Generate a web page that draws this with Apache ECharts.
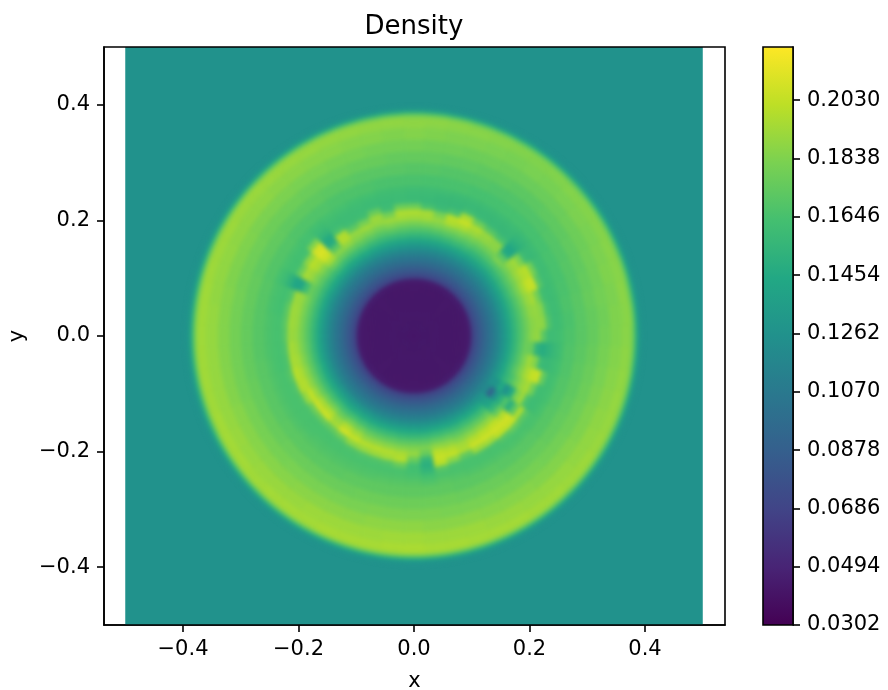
<!DOCTYPE html>
<html><head><meta charset="utf-8">
<style>html,body{margin:0;padding:0;background:#fff}#c{width:888px;height:690px}</style>
<script src="https://cdn.jsdelivr.net/npm/echarts@6/dist/echarts.min.js"></script>
</head><body><div id="c"></div><script>
// Density on a polar table, in thousandths. One row per 6 degrees, counter-clockwise from +x.
const xTicks=[-0.4,-0.2,0,0.2,0.4];
const yTicks=[-0.4,-0.2,0,0.2,0.4];
const barTicks=[0.0302,0.0494,0.0686,0.0878,0.1070,0.1262,0.1454,0.1646,0.1838,0.2030];
const barMin=0.0302, barMax=0.2205, ambientDensity=0.1262;
const viridis=['#440154','#482475','#414487','#355f8d','#2a788e','#21918c','#22a884','#44bf70','#7ad151','#bddf26','#fde725'];
const radialEdges=[0,.09,.10,.11,.12,.13,.14,.15,.16,.17,.18,.19,.20,.21,.22,.23,.24,.25,.26,.28,.30,.32,.34,.36,.37,.375,.38,.385,.39,.395];
const innerProfile=[42,44,71,83,94,104,115];
const midTable=[
[128,142,155,167,177,187,190,172,160,161,163],[128,142,155,167,177,186,189,188,168,160,162],[128,142,155,167,178,188,190,186,165,160,162],
[128,142,155,168,179,190,195,180,162,160,162],[128,142,156,169,181,193,203,205,172,161,162],[128,142,156,169,180,191,198,200,180,162,161],
[127,141,155,168,179,189,193,182,160,158,160],[126,140,154,168,183,172,146,143,150,155,159],[127,141,154,167,178,187,188,165,157,158,160],
[127,141,154,167,178,188,191,170,158,158,160],[128,142,156,169,180,191,197,178,159,158,160],[128,142,157,170,182,195,204,196,162,158,160],
[128,142,156,170,183,197,200,166,157,158,160],[127,141,155,169,182,190,182,160,157,158,161],[127,141,155,168,181,193,195,165,158,159,161],
[127,141,155,168,180,192,197,178,159,159,161],[128,142,156,169,181,193,197,178,160,160,162],[128,142,156,170,183,192,180,161,159,160,162],
[128,142,156,169,180,190,192,176,160,160,163],[128,143,157,171,183,192,180,162,160,161,163],[129,144,159,173,185,190,172,161,160,161,164],
[129,144,159,174,188,198,198,165,160,162,164],[129,144,159,175,186,170,148,146,155,160,163],[129,145,161,178,195,206,210,208,185,164,164],
[129,144,159,173,185,196,200,188,164,163,165],[129,144,158,171,182,191,195,178,163,163,165],[128,143,157,170,176,160,142,143,153,160,164],
[128,143,157,170,181,190,192,168,163,164,166],[128,143,157,170,181,191,193,172,163,164,166],[128,143,157,170,181,191,193,172,164,165,167],
[128,143,157,170,181,190,192,170,164,165,167],[128,143,157,171,182,192,195,168,164,165,167],[128,143,158,172,184,194,196,167,164,165,168],
[129,144,159,173,186,196,200,170,165,166,168],[129,144,159,174,187,198,198,168,165,166,168],[129,145,160,175,190,203,190,167,165,166,168],
[130,146,162,178,195,205,178,166,165,166,168],[130,146,163,180,197,206,176,165,165,166,169],[130,145,161,176,190,195,174,165,165,167,169],
[130,146,163,180,198,207,178,166,165,167,169],[130,145,161,178,193,203,188,167,165,167,169],[129,144,159,174,187,199,190,168,165,167,169],
[129,144,159,173,187,199,192,168,165,167,169],[129,144,159,173,186,198,194,169,165,167,170],[129,144,158,172,185,196,199,176,165,167,170],
[129,144,158,172,184,190,176,163,163,166,170],[129,143,158,172,183,176,156,150,155,163,168],[129,144,159,174,188,200,204,200,170,166,170],
[129,144,159,174,187,198,203,186,166,166,169],[129,143,158,172,184,194,197,174,165,165,168],[129,144,159,173,186,198,205,192,166,165,168],
[129,144,159,174,188,200,206,194,166,165,168],[129,144,159,174,189,202,207,202,170,165,167],[128,135,142,155,175,198,207,204,175,165,167],
[120,92,128,150,168,150,172,197,172,165,166],[126,128,145,126,145,182,192,165,160,162,165],[129,142,155,166,179,190,195,180,162,162,164],
[129,143,157,171,184,195,203,205,175,162,164],[128,142,156,169,182,193,185,160,158,160,163],[128,142,155,168,178,176,153,148,153,158,162]
];
const rimTable=[
[167,171,175,180,184,187,187,184,168,141,128],[166,171,175,179,184,186,188,185,169,141,128],[167,171,176,180,183,187,188,184,168,142,128],
[166,170,175,179,184,186,187,185,169,141,128],[165,170,174,179,183,186,187,184,168,142,128],[165,169,174,178,182,185,187,184,169,142,128],
[164,169,173,178,183,185,186,185,168,143,128],[164,168,173,177,182,185,186,183,169,142,128],[164,168,172,177,181,184,186,184,170,143,128],
[164,168,172,177,182,184,185,184,171,144,128],[164,168,173,177,181,184,186,184,172,146,129],[164,169,173,178,182,185,186,185,174,147,129],
[165,169,174,178,183,186,187,185,175,149,129],[165,169,174,179,183,186,188,186,176,150,129],[165,170,175,179,184,187,189,187,178,152,130],
[166,170,175,180,185,188,189,187,178,152,130],[166,171,175,180,184,188,190,188,177,151,130],[166,171,176,180,185,188,190,187,176,150,129],
[167,171,176,181,185,189,190,188,175,148,129],[167,172,177,181,186,189,191,188,174,147,129],[167,172,177,182,186,190,191,188,173,146,129],
[168,173,177,182,187,190,192,188,172,145,128],[168,173,178,183,187,191,192,188,171,144,128],[168,173,178,183,188,191,193,189,171,143,128],
[169,174,178,183,188,191,193,189,170,143,128],[169,174,179,184,188,192,193,188,170,142,128],[169,174,179,184,189,192,193,188,169,142,128],
[170,175,179,184,189,192,194,189,168,141,128],[170,175,180,185,189,193,194,188,168,141,128],[170,175,180,185,190,193,194,188,168,141,128],
[170,175,180,185,190,193,194,188,168,141,128],[170,175,180,185,190,193,195,189,168,141,128],[171,175,180,185,190,193,195,189,168,141,128],
[171,176,180,185,190,193,194,189,168,141,128],[171,176,181,186,190,194,195,189,168,142,128],[171,176,181,186,191,194,195,190,169,142,128],
[172,176,181,186,190,194,195,190,169,142,128],[172,177,181,186,191,193,195,190,169,142,128],[172,177,182,186,191,194,195,190,170,142,128],
[172,177,182,187,191,194,195,190,170,142,128],[172,177,182,187,192,194,195,190,170,143,128],[173,177,182,187,192,195,196,191,170,143,128],
[173,178,182,187,192,195,196,191,170,143,128],[173,178,183,188,192,195,196,191,171,143,128],[173,178,183,188,193,196,196,191,171,143,128],
[173,178,183,188,193,196,197,191,170,143,128],[173,178,183,187,192,195,196,190,170,142,128],[173,178,182,187,192,195,196,190,170,142,128],
[172,177,182,187,192,194,195,190,169,142,128],[172,177,182,186,191,194,195,189,169,142,128],[172,177,181,186,191,194,195,189,169,142,128],
[171,176,181,186,190,193,194,189,169,142,128],[171,176,181,185,190,193,194,188,169,142,128],[171,176,180,185,190,192,193,188,169,142,128],
[170,175,180,185,189,192,193,188,169,142,128],[170,175,179,184,189,191,192,187,169,142,128],[169,174,179,184,188,190,191,187,169,142,128],
[169,173,178,183,187,190,190,186,169,142,128],[168,173,177,182,186,189,189,186,169,142,128],[168,172,176,181,185,188,188,185,168,141,128]
];
const FONT='"DejaVu Sans"';
const SECTOR=6;
const cells=[];
midTable.forEach((mid,i)=>{
  const row=innerProfile.concat(mid,rimTable[i]);
  row.forEach((v,j)=>cells.push([radialEdges[j],radialEdges[j+1],i*SECTOR-SECTOR/2,i*SECTOR+SECTOR/2,v/1000]));
});
function renderCell(p,api){
  const r0=api.value(0),r1=api.value(1),a0=api.value(2),a1=api.value(3);
  const pts=[];
  const pt=(r,a)=>api.coord([r*Math.cos(a*Math.PI/180),r*Math.sin(a*Math.PI/180)]);
  for(let a=a0;a<=a1+1e-6;a+=1.5)pts.push(pt(r1,a));
  if(r0>0){for(let a=a1;a>=a0-1e-6;a-=1.5)pts.push(pt(r0,a));}else pts.push(pt(0,0));
  const c=api.visual('color');
  return {type:'polygon',shape:{points:pts},style:{fill:c,stroke:c,lineWidth:0.8}};
}
function renderDomain(p,api){
  const a=api.coord([api.value(0),api.value(1)]),b=api.coord([api.value(2),api.value(3)]);
  return {type:'rect',shape:{x:a[0],y:b[1],width:b[0]-a[0],height:a[1]-b[1]},style:{fill:api.visual('color')}};
}
const fmt=v=>{const s=Number(v).toFixed(1);return s==='-0.0'?'0.0':s.replace('-','\u2212');};
const lab=f=>({show:true,fontFamily:FONT,fontSize:21,color:'#000',margin:14,formatter:f});
const vlab=f=>Object.assign(lab(f),{padding:[6,0,0,0],verticalAlignMinLabel:'middle',verticalAlignMaxLabel:'middle'});
const tick=vals=>({show:true,length:7,inside:false,customValues:vals,lineStyle:{color:'#000',width:1.6}});
const axisLine={show:true,onZero:false,lineStyle:{color:'#000',width:1.6}};
const chart=echarts.init(document.getElementById('c'),null,{renderer:'canvas'});
chart.setOption({
  animation:false,backgroundColor:'#fff',
  title:{text:'Density',left:414,top:14,padding:0,textAlign:'center',textStyle:{fontFamily:FONT,fontSize:26,fontWeight:'normal',color:'#000'}},
  grid:[
    {left:104,right:163,top:47,bottom:65,outerBoundsMode:'none',show:true,z:10,borderColor:'#000',borderWidth:1.6,backgroundColor:'transparent'},
    {left:763,right:95,top:47,bottom:65,outerBoundsMode:'none',show:true,z:10,borderColor:'#000',borderWidth:1.6,backgroundColor:'transparent'}
  ],
  xAxis:[
    {type:'value',gridIndex:0,min:-0.5368,max:0.5385,splitLine:{show:false},axisLine:axisLine,axisTick:tick(xTicks),
     axisLabel:Object.assign(lab(fmt),{customValues:xTicks}),name:'x',nameLocation:'middle',nameGap:46,
     nameTextStyle:{fontFamily:FONT,fontSize:21,color:'#000'}},
    {type:'category',gridIndex:1,data:[''],axisLine:{show:false},axisTick:{show:false},axisLabel:{show:false}}
  ],
  yAxis:[
    {type:'value',gridIndex:0,min:-0.5,max:0.5,splitLine:{show:false},axisLine:axisLine,axisTick:tick(yTicks),
     axisLabel:Object.assign(vlab(fmt),{customValues:yTicks}),name:'y',nameLocation:'middle',nameGap:76,
     nameTextStyle:{fontFamily:FONT,fontSize:21,color:'#000'}},
    {type:'value',gridIndex:1,position:'right',min:barMin,max:barMax,splitLine:{show:false},axisLine:axisLine,axisTick:tick(barTicks),
     axisLabel:Object.assign(vlab(v=>Number(v).toFixed(4)),{customValues:barTicks})}
  ],
  visualMap:{show:false,type:'continuous',min:barMin,max:barMax,dimension:4,seriesIndex:[0,1],inRange:{color:viridis}},
  series:[
    {type:'custom',name:'domain',coordinateSystem:'cartesian2d',xAxisIndex:0,yAxisIndex:0,silent:true,
     renderItem:renderDomain,data:[[-0.5,-0.5,0.5,0.5,ambientDensity]],encode:{x:[0,2],y:[1,3]}},
    {type:'custom',name:'Density',zlevel:1,coordinateSystem:'cartesian2d',xAxisIndex:0,yAxisIndex:0,silent:true,
     renderItem:renderCell,data:cells,progressive:0,encode:{x:[],y:[]}},
    {type:'bar',name:'colorbar',xAxisIndex:1,yAxisIndex:1,barWidth:'100%',silent:true,data:[barMax],
     itemStyle:{color:{type:'linear',x:0,y:1,x2:0,y2:0,colorStops:viridis.map((c,i)=>({offset:i/(viridis.length-1),color:c}))}}}
  ]
});
// The reference is an interpolated image: soften only the layer that holds the density cells.
const layers=document.querySelectorAll('#c canvas');
if(layers.length>1)layers[layers.length-1].style.filter='blur(2.2px)';
</script></body></html>
